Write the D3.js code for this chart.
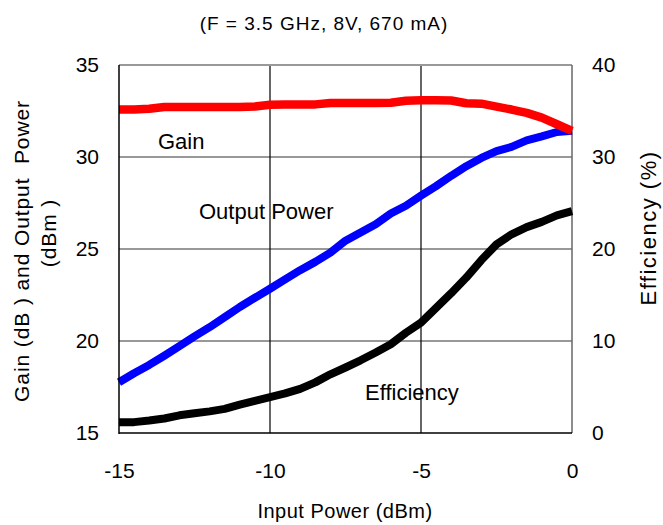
<!DOCTYPE html>
<html>
<head>
<meta charset="utf-8">
<script src="https://cdn.jsdelivr.net/npm/d3@7"></script>
<style>
  body { margin: 0; background: #fff; }
  text { font-family: "Liberation Sans", Arial, sans-serif; fill: #000; }
</style>
</head>
<body>
<div id="chart"></div>
<script>
// ======= data ========
var inputPower = [-15, -14.5, -14, -13.5, -13, -12.5, -12, -11.5, -11, -10.5, -10, -9.5, -9, -8.5, -8,
                  -7.5, -7, -6.5, -6, -5.5, -5, -4.5, -4, -3.5, -3, -2.5, -2, -1.5, -1, -0.5, 0];
var gain = [32.58, 32.58, 32.62, 32.72, 32.72, 32.72, 32.72, 32.72, 32.72, 32.74, 32.84, 32.85, 32.85, 32.86, 32.94,
            32.94, 32.94, 32.94, 32.95, 33.06, 33.08, 33.08, 33.07, 32.92, 32.9, 32.74, 32.58, 32.4, 32.14, 31.78, 31.42];
var outputPower = [17.76, 18.25, 18.7, 19.2, 19.72, 20.25, 20.75, 21.3, 21.85, 22.35, 22.84, 23.35, 23.85, 24.3, 24.8,
                   25.45, 25.9, 26.35, 26.93, 27.35, 27.9, 28.42, 28.98, 29.5, 29.95, 30.32, 30.55, 30.9, 31.12, 31.36, 31.42];
var efficiency = [1.17, 1.18, 1.35, 1.58, 1.92, 2.15, 2.35, 2.62, 3.08, 3.5, 3.89, 4.3, 4.8, 5.5, 6.38,
                  7.12, 7.9, 8.75, 9.65, 10.9, 12.0, 13.6, 15.2, 16.9, 18.8, 20.5, 21.6, 22.38, 22.95, 23.65, 24.12];

var xTicks = [-15, -10, -5, 0];
var leftTicks = [15, 20, 25, 30, 35];
var rightTicks = [0, 10, 20, 30, 40];

// ======= setup ========
var width = 663;
var height = 525;
var plot = {left: 119, right: 572, top: 65, bottom: 433};

var svg = d3.select("#chart")
  .append("svg")
    .attr("width", width)
    .attr("height", height);

var x = d3.scaleLinear().domain([-15, 0]).range([plot.left, plot.right]);
var yLeft = d3.scaleLinear().domain([15, 35]).range([plot.bottom, plot.top]);
var yRight = d3.scaleLinear().domain([0, 40]).range([plot.bottom, plot.top]);

// title
svg.append("text")
    .attr("x", 324)
    .attr("y", 30)
    .attr("text-anchor", "middle")
    .style("font-size", "19px")
    .style("letter-spacing", "1px")
    .text("(F = 3.5 GHz, 8V, 670 mA)");

// ======= grid ========
var grid = svg.append("g").attr("class", "grid");

grid.selectAll(".hgrid")
    .data(leftTicks.slice(1, -1))
  .enter().append("line")
    .attr("x1", plot.left).attr("x2", plot.right)
    .attr("y1", function(d){ return yLeft(d); })
    .attr("y2", function(d){ return yLeft(d); })
    .style("stroke", "#333").style("stroke-width", 1.2);

grid.selectAll(".vgrid")
    .data(xTicks.slice(1, -1))
  .enter().append("line")
    .attr("y1", plot.top).attr("y2", plot.bottom)
    .attr("x1", function(d){ return x(d); })
    .attr("x2", function(d){ return x(d); })
    .style("stroke", "#000").style("stroke-width", 1.2);

// frame: top and right lighter, left and bottom black
grid.append("line").attr("x1", plot.left).attr("x2", plot.right).attr("y1", plot.top).attr("y2", plot.top)
    .style("stroke", "#999").style("stroke-width", 2);
grid.append("line").attr("x1", plot.right).attr("x2", plot.right).attr("y1", plot.top).attr("y2", plot.bottom)
    .style("stroke", "#666").style("stroke-width", 1.5);

// ======= lines ========
var rows = inputPower.map(function(p, i){
    return {x: p, gain: gain[i], pout: outputPower[i], eff: efficiency[i]};
});

function addLine(yScale, key, color, w){
    var line = d3.line()
        .x(function(d){ return x(d.x); })
        .y(function(d){ return yScale(d[key]); });
    svg.append("path")
        .datum(rows)
        .attr("d", line)
        .style("fill", "none")
        .style("stroke", color)
        .style("stroke-width", w)
        .style("stroke-linejoin", "round");
}

addLine(yRight, "eff", "#000", 8);
addLine(yLeft, "pout", "#0000ff", 8);
addLine(yLeft, "gain", "#ff0000", 8.5);

// left and bottom frame drawn over the lines
svg.append("line").attr("x1", plot.left).attr("x2", plot.left).attr("y1", plot.top).attr("y2", plot.bottom + 1)
    .style("stroke", "#000").style("stroke-width", 1.5);
svg.append("line").attr("x1", plot.left).attr("x2", plot.right).attr("y1", plot.bottom).attr("y2", plot.bottom)
    .style("stroke", "#000").style("stroke-width", 1.5);

// ======= axes ========
var axisLeft = d3.axisLeft(yLeft).tickValues(leftTicks).tickSize(0).tickPadding(20);
var axisRight = d3.axisRight(yRight).tickValues(rightTicks).tickSize(0).tickPadding(20);
var axisBottom = d3.axisBottom(x).tickValues(xTicks).tickSize(0).tickPadding(30)
    .tickFormat(function(d){ return String(d); });

function styleAxis(g){
    g.select(".domain").remove();
    g.selectAll("text")
        .style("font-family", "'Liberation Sans', Arial, sans-serif")
        .style("font-size", "21px")
        .attr("fill", "#000");
}

svg.append("g").attr("transform", "translate(" + plot.left + ",0)").call(axisLeft).call(styleAxis);
svg.append("g").attr("transform", "translate(" + plot.right + ",0)").call(axisRight).call(styleAxis);
svg.append("g").attr("transform", "translate(0," + plot.bottom + ")").call(axisBottom).call(styleAxis);

// axis titles
svg.append("text")
    .attr("x", 345).attr("y", 518)
    .attr("text-anchor", "middle")
    .style("font-size", "20px")
    .style("letter-spacing", "0.5px")
    .text("Input Power (dBm)");

var leftTitle = svg.append("text")
    .attr("transform", "translate(29,251) rotate(-90)")
    .attr("text-anchor", "middle")
    .style("font-size", "21px")
    .style("letter-spacing", "0.9px")
    .style("white-space", "pre");
leftTitle.append("tspan").attr("x", 0).attr("y", 0).text("Gain (dB ) and Output  Power");
leftTitle.append("tspan").attr("x", 18).attr("y", 27).text("(dBm )");

svg.append("text")
    .attr("transform", "translate(656,228) rotate(-90)")
    .attr("text-anchor", "middle")
    .style("font-size", "22px")
    .style("letter-spacing", "1.5px")
    .text("Efficiency (%)");

// in-plot labels
svg.append("text").attr("x", 158).attr("y", 149).style("font-size", "22px").text("Gain");
svg.append("text").attr("x", 199).attr("y", 219).style("font-size", "22px").text("Output Power");
svg.append("text").attr("x", 365).attr("y", 400).style("font-size", "22px").text("Efficiency");
</script>
</body>
</html>
